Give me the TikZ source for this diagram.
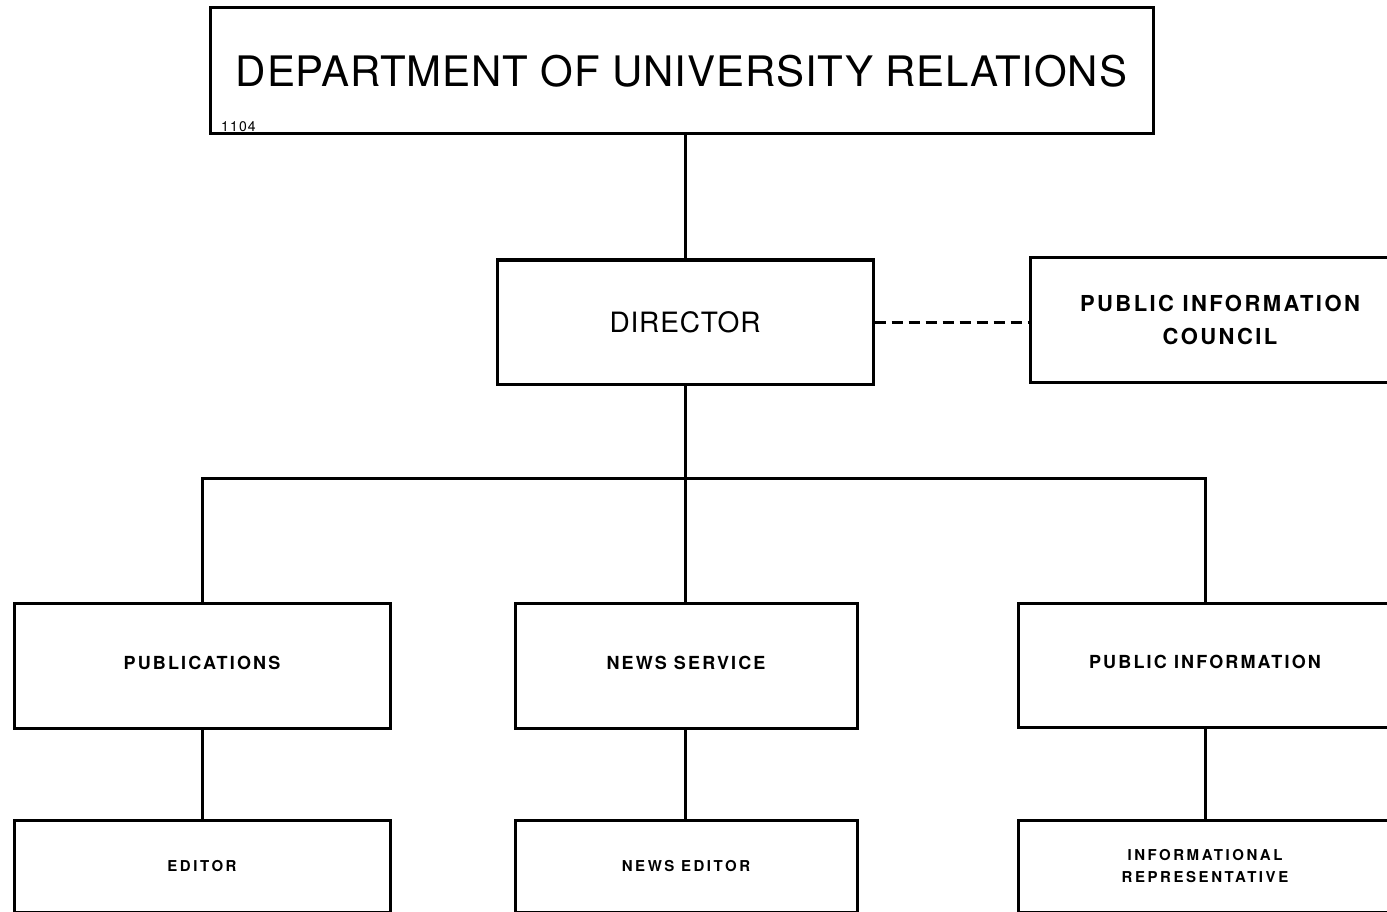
\documentclass[tikz,border=0pt]{standalone}
\usepackage{fontspec}
\setmainfont{TeX Gyre Heros}
\begin{document}
\begin{tikzpicture}[x=1pt,y=-1pt,
  box/.style={draw,line width=3pt,inner sep=0pt,align=center},
  wire/.style={line width=3pt},
  dashwire/.style={line width=3pt,dash pattern=on 11pt off 6pt},
  titlef/.style={font=\fontsize{42}{44}\selectfont\addfontfeature{LetterSpace=2}},
  dirf/.style={font=\fontsize{28}{30}\selectfont\addfontfeature{LetterSpace=3}},
  picf/.style={font=\fontsize{22}{33}\selectfont\bfseries\addfontfeature{LetterSpace=11}},
  secf/.style={font=\fontsize{18}{20}\selectfont\bfseries\addfontfeature{LetterSpace=12},text depth=6pt},
  thirdf/.style={font=\fontsize{15}{22}\selectfont\bfseries\addfontfeature{LetterSpace=17}}]
\useasboundingbox (0,0) rectangle (1387,912);
\fill[white] (0,0) rectangle (1387,912);
\clip (0,0) rectangle (1387,912);
% top
\node[box,titlef,minimum width=943pt,minimum height=126pt] (dept) at (681.5,71) {DEPARTMENT OF UNIVERSITY RELATIONS};
\node[anchor=south west,inner sep=0pt,font=\fontsize{14}{14}\selectfont\addfontfeature{LetterSpace=8}] (num) at (221,132) {1104};
% director level
\node[box,dirf,minimum width=376pt,minimum height=124pt] (dir) at (685,322) {DIRECTOR};
\node[box,picf,minimum width=380pt,minimum height=124pt] (pic) at (1220,320) {PUBLIC INFORMATION\\COUNCIL};
% second level
\node[box,secf,minimum width=376pt,minimum height=125pt] (pub) at (202,665.5) {PUBLICATIONS};
\node[box,secf,minimum width=342pt,minimum height=125pt] (news) at (686,665.5) {NEWS SERVICE};
\node[box,secf,minimum width=374pt,minimum height=124pt] (pinf) at (1205,665) {PUBLIC INFORMATION};
% third level
\node[box,thirdf,minimum width=376pt,minimum height=92pt] (ed) at (202,866) {EDITOR};
\node[box,thirdf,minimum width=342pt,minimum height=92pt] (ned) at (686,866) {NEWS EDITOR};
\node[box,thirdf,minimum width=374pt,minimum height=92pt] (rep) at (1205,866) {INFORMATIONAL\\REPRESENTATIVE};
% connectors
\coordinate (bus) at (685,478);
\draw[wire] (dept.south -| dir.north) -- (dir.north);
\draw[dashwire] (dir.east) -- (dir.east -| pic.west);
\draw[wire] (dir.south) -- (bus);
\draw[wire] (pub.north) |- (bus) -| (pinf.north);
\draw[wire] (bus) -- (bus |- news.north);
\draw[wire] (pub.south) -- (ed.north);
\draw[wire] (news.south -| bus) -- (ned.north -| bus);
\draw[wire] (pinf.south) -- (rep.north);
\end{tikzpicture}
\end{document}
